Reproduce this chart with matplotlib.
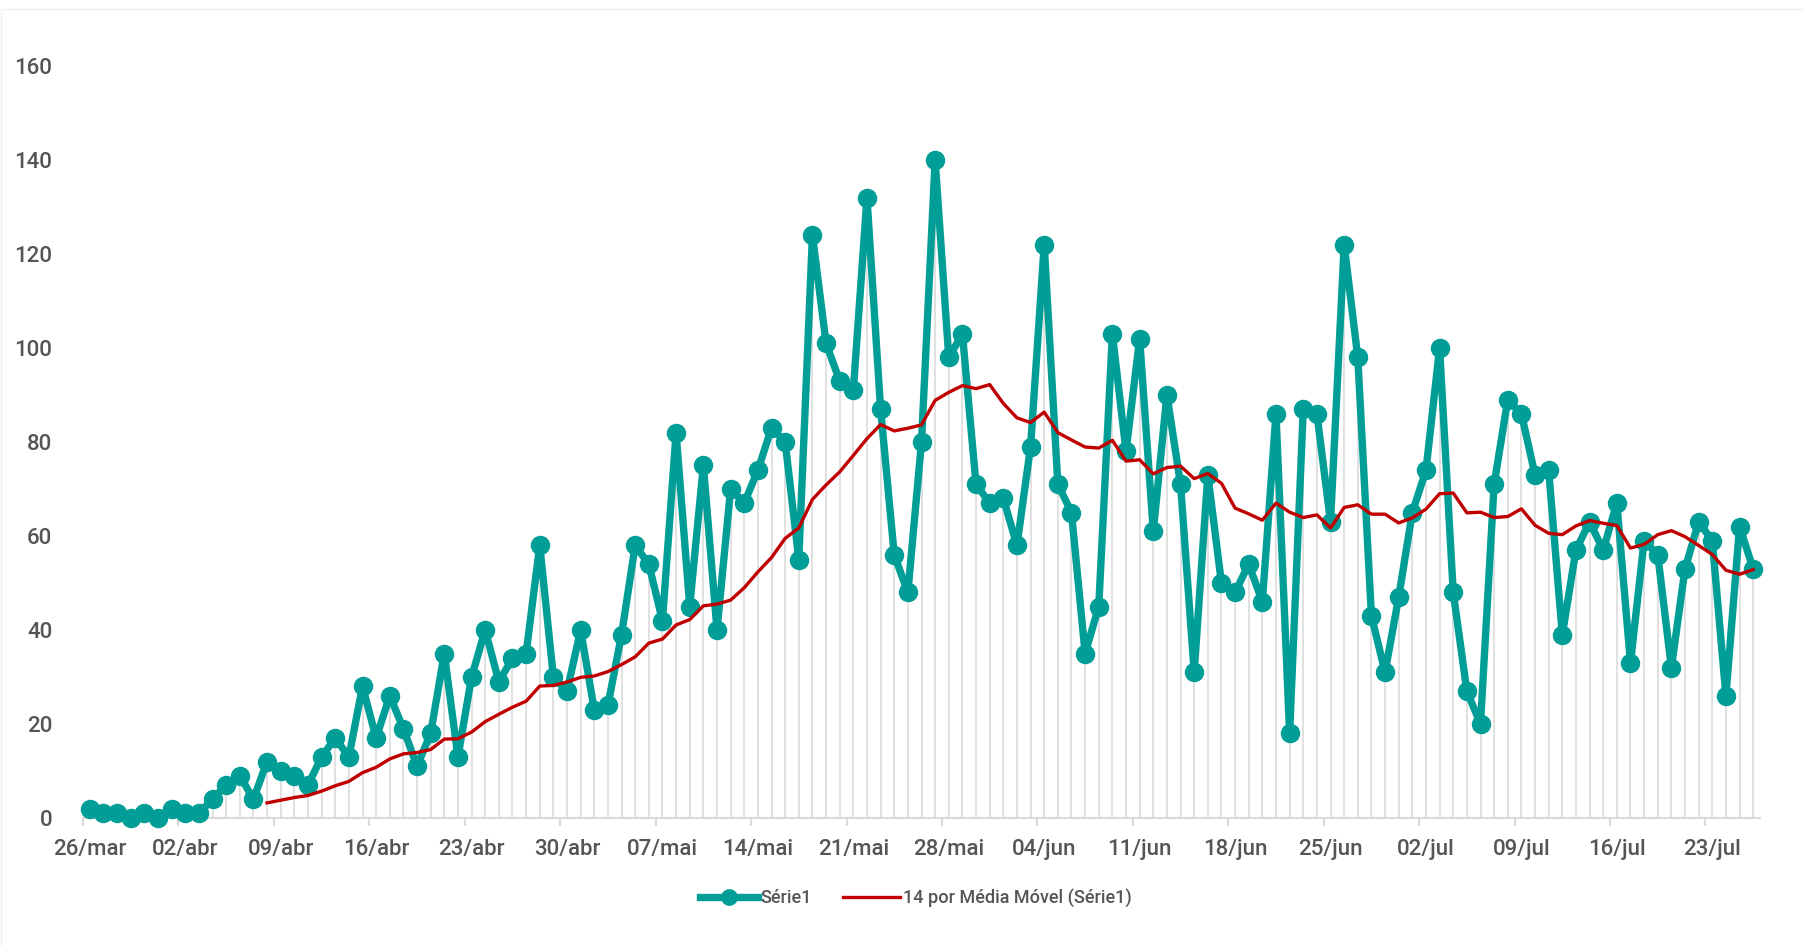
import matplotlib.pyplot as plt
import numpy as np
import pandas as pd
from matplotlib.lines import Line2D

# daily counts starting 26/mar
data_inicio = '2020-03-26'
casos = [2, 1, 1, 0, 1, 0, 2, 1, 1, 4, 7, 9, 4, 12, 10, 9, 7, 13, 17, 13,
         28, 17, 26, 19, 11, 18, 35, 13, 30, 40, 29, 34, 35, 58, 30, 27, 40, 23, 24, 39,
         58, 54, 42, 82, 45, 75, 40, 70, 67, 74, 83, 80, 55, 124, 101, 93, 91, 132, 87, 56,
         48, 80, 140, 98, 103, 71, 67, 68, 58, 79, 122, 71, 65, 35, 45, 103, 78, 102, 61, 90,
         71, 31, 73, 50, 48, 54, 46, 86, 18, 87, 86, 63, 122, 98, 43, 31, 47, 65, 74, 100,
         48, 27, 20, 71, 89, 86, 73, 74, 39, 57, 63, 57, 67, 33, 59, 56, 32, 53, 63, 59,
         26, 62, 53]
meses = {3: 'mar', 4: 'abr', 5: 'mai', 6: 'jun', 7: 'jul'}
y_ticks = [0, 20, 40, 60, 80, 100, 120, 140, 160]
nome_serie = 'Série1'
nome_media = '14 por Média Móvel (Série1)'
janela = 14

TEAL = '#009E96'
RED = '#C00000'
GRID = '#d9d9d9'
TEXT = '#555555'

plt.rcParams['font.family'] = ['Roboto', 'DejaVu Sans']
plt.rcParams['font.weight'] = 'medium'

dias = pd.date_range(data_inicio, periods=len(casos), freq='D')
rotulos = ['%02d/%s' % (d.day, meses[d.month]) for d in dias]
x = np.arange(len(casos))
# trailing moving average, same as the spreadsheet trendline
media = pd.Series(casos, dtype=float).rolling(janela).mean()

fig = plt.figure(figsize=(18.04, 9.46), dpi=100)
ax = fig.add_axes([83 / 1804, 128 / 946, (1760 - 83) / 1804, (818 - 66) / 946])

# drop lines from each point to the axis
ax.vlines(x, 0, casos, color=GRID, lw=1.1, zorder=1)
ax.plot(x, casos, color=TEAL, lw=5.3, marker='o', ms=13, zorder=3,
        solid_joinstyle='round', clip_on=False, label=nome_serie)
ax.plot(x, media, color=RED, lw=2.4, zorder=4, label=nome_media)

ax.set_xlim(-0.5, len(casos) - 0.5)
ax.set_ylim(0, 160)
ax.set_yticks(y_ticks)
ax.set_xticks(x[::7])
ax.set_xticklabels(rotulos[::7])
ax.set_xticks(x[::7] - 0.5, minor=True)

ax.tick_params(axis='x', which='major', length=0, pad=15, labelsize=16, labelcolor=TEXT)
ax.tick_params(axis='x', which='minor', length=6, width=1.5, color=GRID)
ax.tick_params(axis='y', length=0, pad=22, labelsize=16, labelcolor=TEXT)

for lado in ['top', 'right', 'left']:
    ax.spines[lado].set_visible(False)
ax.spines['bottom'].set_color(GRID)
ax.spines['bottom'].set_linewidth(1.5)

fig.legend(loc='center', bbox_to_anchor=(916 / 1804, 1 - 898 / 946), ncol=2, frameon=False,
           fontsize=13, handlelength=3.2, handletextpad=0.15, columnspacing=1.7,
           labelcolor=TEXT, markerscale=0.85)

# faint chart-area border along the top and left
fig.add_artist(Line2D([1 / 1804, 1], [1 - 9 / 946, 1 - 9 / 946], color='#f0f0f0', lw=1))
fig.add_artist(Line2D([1 / 1804, 1 / 1804], [0, 1 - 9 / 946], color='#f0f0f0', lw=1))

fig.savefig('out.png', dpi=100)
